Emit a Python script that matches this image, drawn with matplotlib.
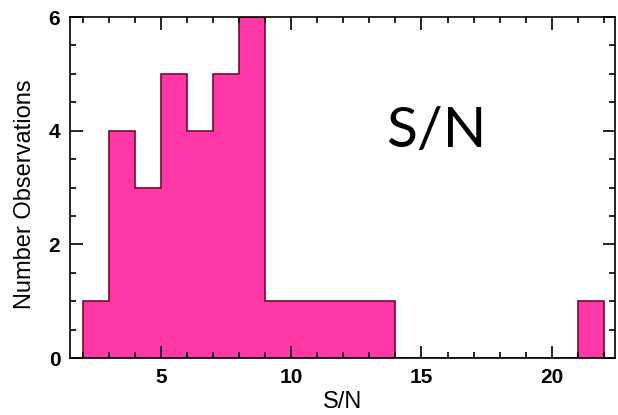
import numpy as np
import matplotlib
matplotlib.use("Agg")
import matplotlib.pyplot as plt
from matplotlib.ticker import MultipleLocator

# histogram of S/N, unit-wide bins from 2 to 22
bin_edges = list(range(2, 23))
counts = [1, 4, 3, 5, 4, 5, 6, 1, 1, 1, 1, 1, 0, 0, 0, 0, 0, 0, 0, 1]

xlabel = "S/N"
ylabel = "Number Observations"
panel_label = "S/N"

plt.rcParams['font.family'] = ['Liberation Sans', 'DejaVu Sans']

fig = plt.figure(figsize=(6.18, 4.15), dpi=100)
ax = fig.add_axes([0.1133, 0.1373, 0.8817, 0.8217])

ax.stairs(counts, bin_edges, fill=True, facecolor='#ff38a8', edgecolor='none')
ax.stairs(counts, bin_edges, baseline=0, color='#7a0a2a', linewidth=1.2)

ax.set_xlim(1.5, 22.43)
ax.set_ylim(0, 6)
ax.xaxis.set_major_locator(MultipleLocator(5))
ax.xaxis.set_minor_locator(MultipleLocator(1))
ax.yaxis.set_major_locator(MultipleLocator(2))
ax.yaxis.set_minor_locator(MultipleLocator(0.5))
ax.tick_params(which='both', direction='in', top=True, right=True, width=1.2)
ax.tick_params(which='major', length=9, labelsize=15, pad=7)
ax.tick_params(which='minor', length=4.5)
for lab in ax.get_xticklabels() + ax.get_yticklabels():
    lab.set_fontweight('bold')
for s in ax.spines.values():
    s.set_linewidth(1.2)

ax.set_xlabel(xlabel, fontsize=17, labelpad=3)
ax.set_ylabel(ylabel, fontsize=17)
ax.yaxis.set_label_coords(-0.062, 0.48)

ax.text(0.6725, 0.619, panel_label, transform=ax.transAxes, fontsize=41,
        family=['Lato', 'DejaVu Sans'], ha='center', va='baseline')

fig.savefig("out.png", dpi=100)
